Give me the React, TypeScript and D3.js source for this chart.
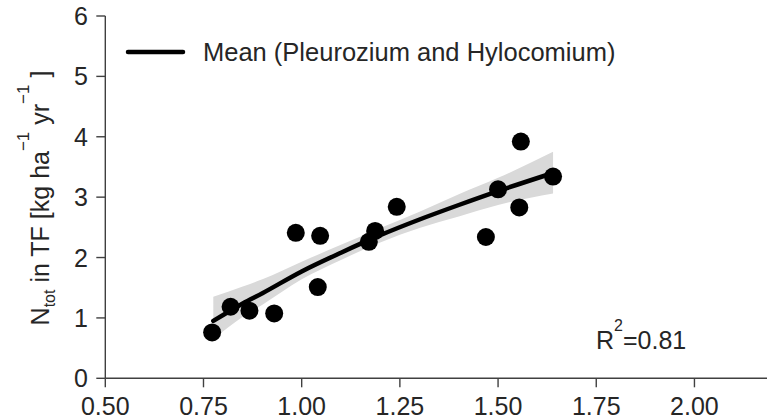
import React from "react";
import * as d3 from "d3";

const pointsX = [0.772, 0.819, 0.867, 0.930, 0.985, 1.047, 1.041, 1.171, 1.187, 1.242, 1.469, 1.500, 1.554, 1.558, 1.640];
const pointsY = [0.76, 1.185, 1.12, 1.075, 2.41, 2.36, 1.51, 2.26, 2.44, 2.84, 2.34, 3.13, 2.83, 3.92, 3.34];

const fitX = [0.775, 0.85, 0.9, 1.0, 1.1, 1.2, 1.3, 1.4, 1.5, 1.64];
const fitY = [0.95, 1.24, 1.41, 1.77, 2.08, 2.37, 2.63, 2.87, 3.10, 3.40];
const bandLo = [0.65, 1.02, 1.22, 1.64, 1.96, 2.25, 2.49, 2.68, 2.87, 3.06];
const bandHi = [1.35, 1.52, 1.64, 1.93, 2.21, 2.49, 2.76, 3.05, 3.32, 3.75];

const xTicks = [0.5, 0.75, 1.0, 1.25, 1.5, 1.75, 2.0];
const yTicks = [0, 1, 2, 3, 4, 5, 6];

const legendLabel = "Mean (Pleurozium and Hylocomium)";
const r2Label = "0.81";

const W = 767;
const H = 420;
const FONT = "'Liberation Sans', Arial, Helvetica, sans-serif";
const TXT = "#262626";
const AX = "#404040";

export default function App() {
  const x = d3.scaleLinear().domain([0.5, 2.2]).range([105.3, 773]);
  const y = d3.scaleLinear().domain([0, 6]).range([378.3, 16]);

  const idx = fitX.map((_, i) => i);
  const area = d3
    .area<number>()
    .x((i) => x(fitX[i]))
    .y0((i) => y(bandLo[i]))
    .y1((i) => y(bandHi[i]))
    .curve(d3.curveMonotoneX);
  const line = d3
    .line<number>()
    .x((i) => x(fitX[i]))
    .y((i) => y(fitY[i]))
    .curve(d3.curveMonotoneX);

  const x0 = x(0.5);
  const y0 = y(0);

  return (
    <svg
      width={W}
      height={H}
      style={{ position: "absolute", left: 0, top: 0, background: "#fff" }}
      fontFamily={FONT}
    >
      <rect x={0} y={0} width={W} height={H} fill="#fff" />
      <path d={area(idx) || ""} fill="#d9d9d9" />
      {pointsX.map((px, i) => (
        <circle key={i} cx={x(px)} cy={y(pointsY[i])} r={9} fill="#000" />
      ))}
      <path d={line(idx) || ""} fill="none" stroke="#000" strokeWidth={4.5} strokeLinecap="round" />

      <line x1={x0} x2={W + 10} y1={y0} y2={y0} stroke={AX} strokeWidth={1.4} />
      <line x1={x0} x2={x0} y1={y(6)} y2={y0} stroke={AX} strokeWidth={1.4} />
      {xTicks.map((t) => (
        <g key={"x" + t}>
          <line x1={x(t)} x2={x(t)} y1={y0} y2={y0 + 9} stroke={AX} strokeWidth={1.4} />
          <text x={x(t)} y={415} textAnchor="middle" fontSize={25} fill={TXT}>
            {t.toFixed(2)}
          </text>
        </g>
      ))}
      {yTicks.map((t) => (
        <g key={"y" + t}>
          <line x1={x0 - 9} x2={x0} y1={y(t)} y2={y(t)} stroke={AX} strokeWidth={1.4} />
          <text x={88} y={y(t) + 9} textAnchor="end" fontSize={25} fill={TXT}>
            {t}
          </text>
        </g>
      ))}

      <text transform="translate(49,198) rotate(-90)" textAnchor="middle" fontSize={25} fill={TXT}>
        <tspan>N</tspan>
        <tspan fontSize={16} dy={6}>tot</tspan>
        <tspan dy={-6}> in TF [kg ha</tspan>
        <tspan fontSize={17} dy={-20}>−1</tspan>
        <tspan dy={20}>  yr</tspan>
        <tspan fontSize={17} dy={-20}>−1</tspan>
        <tspan dy={20}> ]</tspan>
      </text>

      <line x1={128} x2={183} y1={52} y2={52} stroke="#000" strokeWidth={4.5} strokeLinecap="round" />
      <text x={203} y={61} fontSize={25.5} fill={TXT}>
        {legendLabel}
      </text>

      <text x={596} y={349} fontSize={25} fill={TXT}>
        <tspan>R</tspan>
        <tspan fontSize={16} dy={-18}>2</tspan>
        <tspan dy={18}>{"=" + r2Label}</tspan>
      </text>
    </svg>
  );
}
